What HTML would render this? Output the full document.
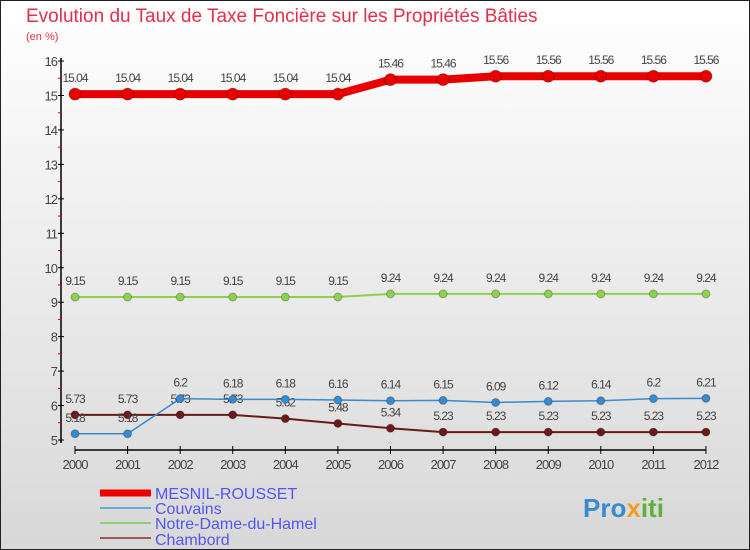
<!DOCTYPE html>
<html><head><meta charset="utf-8"><style>
body{margin:0}
#c{width:750px;height:550px;position:relative;overflow:hidden;font-family:"Liberation Sans",sans-serif}
svg text{font-family:"Liberation Sans",sans-serif}
</style></head><body>
<div id="c">
<svg id="s" width="750" height="550" xmlns="http://www.w3.org/2000/svg">
<defs><linearGradient id="bg" x1="0" y1="0" x2="0" y2="1"><stop offset="0" stop-color="#ffffff"/><stop offset="1" stop-color="#d8d8d8"/></linearGradient></defs>
<rect x="0.5" y="0.5" width="749" height="549" fill="url(#bg)" stroke="#222"/>
<text x="26" y="22" font-size="19" fill="#e0304a">Evolution du Taux de Taxe Foncière sur les Propriétés Bâties</text>
<text x="26" y="40" font-size="11" fill="#e0304a">(en %)</text>
<g id="axes"></g><g id="series"></g>
<g>
<line x1="100" y1="493" x2="151" y2="493" stroke="#e00" stroke-width="7"/>
<text x="155" y="499" font-size="16" fill="#5555ee">MESNIL-ROUSSET</text>
<line x1="100" y1="508" x2="151" y2="508" stroke="#6aaad8" stroke-width="2"/>
<text x="155" y="514" font-size="16" fill="#5555ee">Couvains</text>
<line x1="100" y1="523" x2="151" y2="523" stroke="#90d070" stroke-width="2"/>
<text x="155" y="529" font-size="16" fill="#5555ee">Notre-Dame-du-Hamel</text>
<line x1="100" y1="538" x2="151" y2="538" stroke="#9a5a5a" stroke-width="2"/>
<text x="155" y="545" font-size="16" fill="#5555ee">Chambord</text>
</g>
<text x="583" y="517" font-size="26" font-weight="bold" fill="#3a8ad0">Pro<tspan fill="#f0a020">x</tspan><tspan fill="#60b040">iti</tspan></text>
</svg></div>
<script>
const years=[2000,2001,2002,2003,2004,2005,2006,2007,2008,2009,2010,2011,2012];
const mesnil=[15.04,15.04,15.04,15.04,15.04,15.04,15.46,15.46,15.56,15.56,15.56,15.56,15.56];
const couvains=[5.18,5.18,6.2,6.18,6.18,6.16,6.14,6.15,6.09,6.12,6.14,6.2,6.21];
const notreDame=[9.15,9.15,9.15,9.15,9.15,9.15,9.24,9.24,9.24,9.24,9.24,9.24,9.24];
const chambord=[5.73,5.73,5.73,5.73,5.62,5.48,5.34,5.23,5.23,5.23,5.23,5.23,5.23];
const yTicks=[5,6,7,8,9,10,11,12,13,14,15,16];
const NS="http://www.w3.org/2000/svg";
const X=i=>75+i*52.58, Y=v=>440-(v-5)*34.45;
function mk(t,a,p){const e=document.createElementNS(NS,t);for(const k in a)e.setAttribute(k,a[k]);p.appendChild(e);return e;}
const ax=document.getElementById('axes'), sg=document.getElementById('series');
const yl=mk('line',{x1:61,y1:58,x2:61,y2:443,stroke:'#000','stroke-width':1.5},ax);


yTicks.forEach(v=>{
 mk('line',{x1:58,y1:Y(v),x2:64,y2:Y(v),stroke:'#000'},ax);
 if(v<16) mk('line',{x1:58,y1:Y(v+0.5),x2:61,y2:Y(v+0.5),stroke:'#e00'},ax);
 const t=mk('text',{x:57,y:Y(v)+5,'font-size':13,'text-anchor':'end',fill:'#444','letter-spacing':'-1'},ax);
 t.textContent=v;
 
 
});
const xl=mk('line',{x1:75,y1:450,x2:706,y2:450,stroke:'#000','stroke-width':1.5},ax);


years.forEach((y,i)=>{
 mk('line',{x1:X(i),y1:446,x2:X(i),y2:454,stroke:'#000'},ax);
 const t=mk('text',{x:X(i),y:469,'font-size':13,'text-anchor':'middle',fill:'#444','letter-spacing':'-1'},ax);
 t.textContent=y;
 
 
});
function series(vals,color,w,r,name){
 const g=mk('g',{},sg);
 
 
 const p=mk('polyline',{points:vals.map((v,i)=>X(i)+','+Y(v)).join(' '),fill:'none',stroke:color,'stroke-width':w},g);
 
 
 vals.forEach((v,i)=>{
  const c=mk('circle',{cx:X(i),cy:Y(v),r:r,fill:color,stroke:'rgba(0,0,0,0.25)'},g);
  
  
  const t=mk('text',{x:X(i),y:Y(v)-12,'font-size':12,'text-anchor':'middle',fill:'#444','letter-spacing':'-1'},g);
  t.textContent=v;
  
  
 });
}
series(notreDame,'#90d050',2,4,'notre-dame');
series(chambord,'#6a1a1a',2,4,'chambord');
series(couvains,'#3a8ad0',1.5,4,'couvains');
series(mesnil,'#e80000',8,6,'mesnil');
</script>
</body></html>
